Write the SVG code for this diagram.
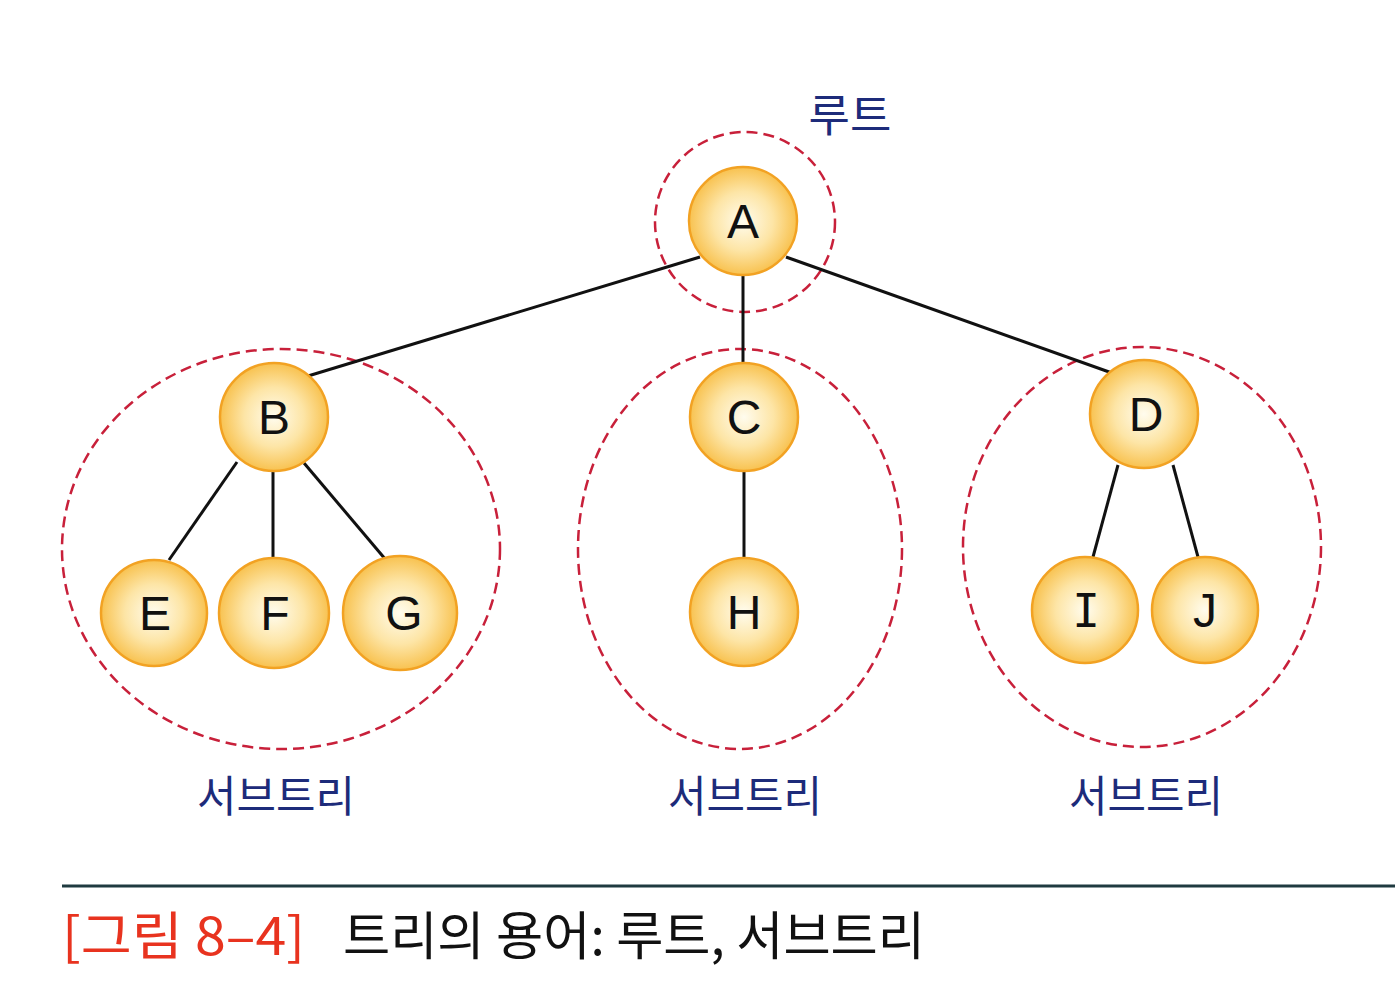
<svg xmlns="http://www.w3.org/2000/svg" width="1395" height="1000" viewBox="0 0 1395 1000">
<defs>
<radialGradient id="g" cx="50%" cy="50%" r="50%">
<stop offset="0" stop-color="#fffcee"/>
<stop offset="0.55" stop-color="#fde5a6"/>
<stop offset="1" stop-color="#f8c250"/>
</radialGradient>
</defs>
<style>
.n{fill:url(#g);stroke:#f2a223;stroke-width:2.5}
.t{font-family:"Liberation Sans","DejaVu Sans",sans-serif;font-size:48px;fill:#111;text-anchor:middle}
.d{fill:none;stroke:#c8203a;stroke-width:2.5;stroke-dasharray:11 6}
.e{stroke:#111;stroke-width:3;fill:none}
.k{font-family:"Noto Sans CJK KR","Noto Sans",sans-serif;font-size:43px;fill:#1d2b7a;text-anchor:middle}
.c{font-family:"Noto Sans CJK KR","Noto Sans",sans-serif;font-size:52px}
</style>
<rect width="1395" height="1000" fill="#fff"/>
<g id="subtrees">
<ellipse class="d" cx="745" cy="222" rx="90" ry="90"/>
<ellipse class="d" cx="281" cy="549" rx="219" ry="200"/>
<ellipse class="d" cx="740" cy="549" rx="162" ry="200"/>
<ellipse class="d" cx="1142" cy="547" rx="179" ry="200"/>
</g>
<g id="connectors">
<line class="e" x1="700" y1="257" x2="308" y2="376"/>
<line class="e" x1="743" y1="275" x2="743" y2="363"/>
<line class="e" x1="786" y1="257" x2="1112" y2="373"/>
<line class="e" x1="237" y1="462" x2="169" y2="560"/>
<line class="e" x1="273" y1="470" x2="273" y2="560"/>
<line class="e" x1="304" y1="463" x2="386" y2="560"/>
<line class="e" x1="744" y1="472" x2="744" y2="558"/>
<line class="e" x1="1118" y1="465" x2="1093" y2="557"/>
<line class="e" x1="1173" y1="465" x2="1198" y2="557"/>
</g>
<g id="A"><circle class="n" cx="743" cy="221" r="54"/><text class="t" x="743" y="238">A</text></g>
<g id="B"><circle class="n" cx="274" cy="417" r="54"/><text class="t" x="274" y="434">B</text></g>
<g id="C"><circle class="n" cx="744" cy="417" r="54"/><text class="t" x="744" y="434">C</text></g>
<g id="D"><circle class="n" cx="1144" cy="414" r="54"/><text class="t" x="1146" y="431">D</text></g>
<g id="E"><circle class="n" cx="154" cy="613" r="53"/><text class="t" x="155" y="630">E</text></g>
<g id="F"><circle class="n" cx="274" cy="613" r="55"/><text class="t" x="275" y="630">F</text></g>
<g id="G"><circle class="n" cx="400" cy="613" r="57"/><text class="t" x="404" y="630">G</text></g>
<g id="H"><circle class="n" cx="744" cy="612" r="54"/><text class="t" x="744" y="629">H</text></g>
<g id="I"><circle class="n" cx="1085" cy="610" r="53"/><text class="t" x="1086" y="627" style="font-family:'DejaVu Sans Mono','Liberation Mono',monospace;font-size:46px">I</text></g>
<g id="J"><circle class="n" cx="1205" cy="610" r="53"/><text class="t" x="1205" y="627">J</text></g>
<g id="labels">
<text class="k" x="850" y="132" style="font-size:45px">루트</text>
<text class="k" x="276" y="812" textLength="158" lengthAdjust="spacingAndGlyphs">서브트리</text>
<text class="k" x="745" y="812" textLength="154" lengthAdjust="spacingAndGlyphs">서브트리</text>
<text class="k" x="1146" y="812" textLength="154" lengthAdjust="spacingAndGlyphs">서브트리</text>
</g>
<g id="caption">
<line x1="62" y1="886" x2="1395" y2="886" stroke="#1f3a40" stroke-width="3"/>
<text class="c" x="62" y="955" fill="#e8331f" textLength="243" lengthAdjust="spacingAndGlyphs">[그림 8–4]</text>
<text class="c" x="343" y="955" fill="#111" textLength="582" lengthAdjust="spacingAndGlyphs">트리의 용어: 루트, 서브트리</text>
</g>
</svg>
